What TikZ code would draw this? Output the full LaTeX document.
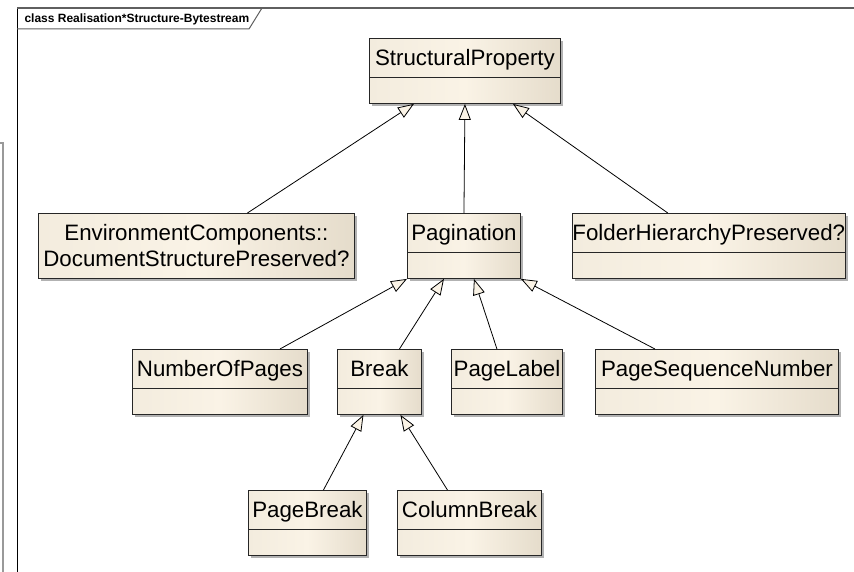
\documentclass[tikz,border=0pt]{standalone}
\usepackage{fontspec}
\setmainfont{Liberation Sans}
\usetikzlibrary{arrows.meta,shadows}
\definecolor{classleft}{RGB}{243,236,222}
\definecolor{classmid}{RGB}{250,243,230}
\definecolor{classright}{RGB}{229,220,203}
\definecolor{framegray}{RGB}{95,95,95}

\begin{document}
\begin{tikzpicture}[
		x=1pt, y=-1pt,
		class/.style={rectangle,draw=black!85,line width=0.9pt,
		left color=classleft,right color=classright,middle color=classmid,
		inner sep=0pt,minimum width=#1,minimum height=65pt,
		text height=27pt,text depth=38pt,anchor=north west,
		font=\fontsize{22.3}{26}\selectfont,
		drop shadow={shadow xshift=3pt,shadow yshift=-3pt,fill=black!30,opacity=1}},
		bigclass/.style={class=#1,text height=,text depth=,align=center},
		gen/.style={-{Triangle[fill=classmid,length=16pt,width=12pt]},
		draw=black,line width=0.8pt}
		]
		\useasboundingbox (0,0) rectangle (854,572);
		% frame and its tab
		\draw[gray!80, line width=2pt] (0,143) -- (3,143) -- (3,572);
		\draw[black, line width=1pt] (17,572) -- (17,8);
		\draw[framegray, line width=1.6pt] (17,8) -- (854,8);
		\draw[framegray, line width=1pt] (17,29) -- (249,29) -- (262,8);
		\node[anchor=west, font=\bfseries\fontsize{12}{14}\selectfont] (ttl) at (21,19)
			{class Realisation*Structure-Bytestream};

		\node[class=191] (sp) at (369,38) {StructuralProperty};
		\node[bigclass=316] (envc) at (38,213)
			{EnvironmentComponents::\\DocumentStructurePreserved?};
		\node[class=113] (pag) at (407,213) {Pagination};
		\node[class=272] (fhp) at (572,213) {FolderHierarchyPreserved?};
		\node[class=175] (nop) at (132,349) {NumberOfPages};
		\node[class=84] (brk) at (337,349) {Break};
		\node[class=111] (plab) at (451,349) {PageLabel};
		\node[class=243] (psn) at (595,349) {PageSequenceNumber};
		\node[class=118] (pbrk) at (248,490) {PageBreak};
		\node[class=144] (cbrk) at (397,490) {ColumnBreak};
		% attribute compartments
		\foreach \cls in {sp,pag,fhp,nop,brk,plab,psn,pbrk,cbrk}
			\draw[black!85, line width=0.9pt] ([yshift=-39pt]\cls.north west) -- ([yshift=-39pt]\cls.north east);

		% generalisations
		\draw[gen] ([xshift=51]envc.north) -- ([xshift=-51]sp.south);
		\draw[gen] (pag.north) -- (sp.south);
		\draw[gen] ([xshift=-41]fhp.north) -- ([xshift=48]sp.south);
		\draw[gen] ([xshift=60]nop.north) -- (pag.south west);
		\draw[gen] ([xshift=20]brk.north) -- ([xshift=-20]pag.south);
		\draw[gen] ([xshift=-10]plab.north) -- ([xshift=10]pag.south);
		\draw[gen] ([xshift=-62]psn.north) -- (pag.south east);
		\draw[gen] ([xshift=16]pbrk.north) -- ([xshift=-16]brk.south);
		\draw[gen] ([xshift=-22]cbrk.north) -- ([xshift=21]brk.south);
	\end{tikzpicture}
\end{document}
